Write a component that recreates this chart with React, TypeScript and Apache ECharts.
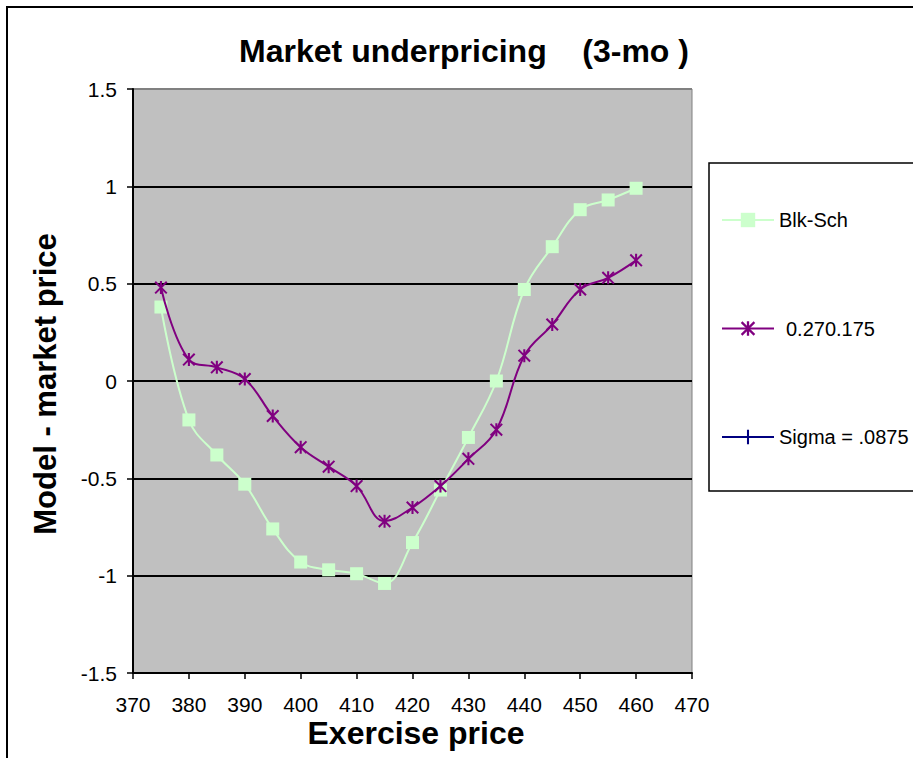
import React, { useEffect, useRef } from "react";
import * as echarts from "echarts";

// Exercise prices (strikes) and model-minus-market price differences
const strikes = [375, 380, 385, 390, 395, 400, 405, 410, 415, 420, 425, 430, 435, 440, 445, 450, 455, 460];
const blkSch = [0.38, -0.2, -0.38, -0.53, -0.76, -0.93, -0.97, -0.99, -1.04, -0.83, -0.56, -0.29, 0.0, 0.47, 0.69, 0.88, 0.93, 0.99];
const model27 = [0.48, 0.11, 0.07, 0.01, -0.18, -0.34, -0.44, -0.54, -0.72, -0.65, -0.54, -0.4, -0.25, 0.13, 0.29, 0.47, 0.53, 0.62];
const sigma0875: number[] = [];

const seriesNames = ["Blk-Sch", "0.270.175", "Sigma = .0875"];
const titleText = "Market underpricing\u00a0\u00a0\u00a0\u00a0(3-mo\u00a0)";
const xTitle = "Exercise price";
const yTitle = "Model - market price";

const FONT = "'Liberation Sans', Arial, sans-serif";

// Marker shapes drawn as filled outlines
const asteriskPath =
  "path://M4.2,0 L5.8,0 L5.8,10 L4.2,10 Z M0,1.1 L1.1,0 L10,8.9 L8.9,10 Z M8.9,0 L10,1.1 L1.1,10 L0,8.9 Z";
const plusPath = "path://M6,0 L8,0 L8,14 L6,14 Z M0,6 L14,6 L14,8 L0,8 Z";

const pairs = (ys: number[]) => ys.map((y, i) => [strikes[i], y]);

export default function App() {
  const ref = useRef<HTMLDivElement>(null);

  useEffect(() => {
    if (!ref.current) return;
    const chart = echarts.init(ref.current, undefined, { renderer: "svg" });
    chart.setOption({
      animation: false,
      backgroundColor: "#ffffff",
      textStyle: { fontFamily: FONT },
      grid: {
        left: 133,
        top: 89,
        width: 559,
        height: 584,
        show: true,
        backgroundColor: "#C0C0C0",
        borderColor: "#808080",
        borderWidth: 1,
        outerBoundsMode: "none",
        containLabel: false,
      },
      xAxis: {
        type: "value",
        min: 370,
        max: 470,
        interval: 10,
        axisLine: { show: true, onZero: false, lineStyle: { color: "#000", width: 2 } },
        axisTick: { show: true, length: 6, lineStyle: { color: "#000", width: 1.5 } },
        axisLabel: { color: "#000", fontSize: 21, margin: 21, fontFamily: FONT },
        splitLine: { show: false },
      },
      yAxis: {
        type: "value",
        min: -1.5,
        max: 1.5,
        interval: 0.5,
        axisLine: { show: true, onZero: false, lineStyle: { color: "#000", width: 2 } },
        axisTick: { show: true, length: 6, lineStyle: { color: "#000", width: 1.5 } },
        axisLabel: { color: "#000", fontSize: 21, margin: 16, fontFamily: FONT },
        splitLine: {
          show: true,
          lineStyle: {
            color: ["#000", "#000", "#000", "#000", "#000", "#000", "#808080"],
            width: 2,
          },
        },
      },
      legend: {
        orient: "vertical",
        left: 716,
        top: 205,
        itemWidth: 52,
        itemHeight: 18,
        itemGap: 88.5,
        textStyle: { color: "#000", fontSize: 20, fontFamily: FONT },
        data: [
          { name: seriesNames[0] },
          { name: seriesNames[1], textStyle: { padding: [0, 0, 0, 7] } },
          { name: seriesNames[2] },
        ],
      },
      graphic: [
        {
          type: "rect",
          shape: { x: 7, y: 7, width: 1000, height: 1000 },
          style: { fill: "none", stroke: "#000", lineWidth: 2 },
          silent: true,
        },
        {
          type: "rect",
          shape: { x: 709, y: 163, width: 300, height: 328 },
          style: { fill: "none", stroke: "#000", lineWidth: 1.5 },
          silent: true,
        },
        {
          type: "text",
          x: 464,
          y: 51,
          style: {
            text: titleText,
            fill: "#000",
            font: `bold 32px ${FONT}`,
            textAlign: "center",
            textVerticalAlign: "middle",
            verticalAlign: "middle",
          },
        },
        {
          type: "text",
          x: 416,
          y: 733,
          style: {
            text: xTitle,
            fill: "#000",
            font: `bold 32px ${FONT}`,
            textAlign: "center",
            textVerticalAlign: "middle",
            verticalAlign: "middle",
          },
        },
        {
          type: "text",
          x: 45,
          y: 384,
          rotation: Math.PI / 2,
          style: {
            text: yTitle,
            fill: "#000",
            font: `bold 31px ${FONT}`,
            textAlign: "center",
            textVerticalAlign: "middle",
            verticalAlign: "middle",
          },
        },
      ],
      series: [
        {
          name: seriesNames[0],
          type: "line",
          smooth: 0.4,
          data: pairs(blkSch),
          symbol: "rect",
          symbolSize: 13,
          itemStyle: { color: "#CCFFCC" },
          lineStyle: { color: "#CCFFCC", width: 2 },
          z: 2,
        },
        {
          name: seriesNames[1],
          type: "line",
          smooth: 0.4,
          data: pairs(model27),
          symbol: asteriskPath,
          symbolSize: 13,
          itemStyle: { color: "#800080" },
          lineStyle: { color: "#800080", width: 2 },
          z: 3,
        },
        {
          name: seriesNames[2],
          type: "line",
          smooth: 0.4,
          data: pairs(sigma0875),
          symbol: plusPath,
          symbolSize: 14,
          itemStyle: { color: "#000080" },
          lineStyle: { color: "#000080", width: 2 },
          z: 4,
        },
      ],
    });
    return () => chart.dispose();
  }, []);

  return (
    <div
      ref={ref}
      style={{ position: "fixed", left: 0, top: 0, width: 913, height: 758 }}
    />
  );
}
